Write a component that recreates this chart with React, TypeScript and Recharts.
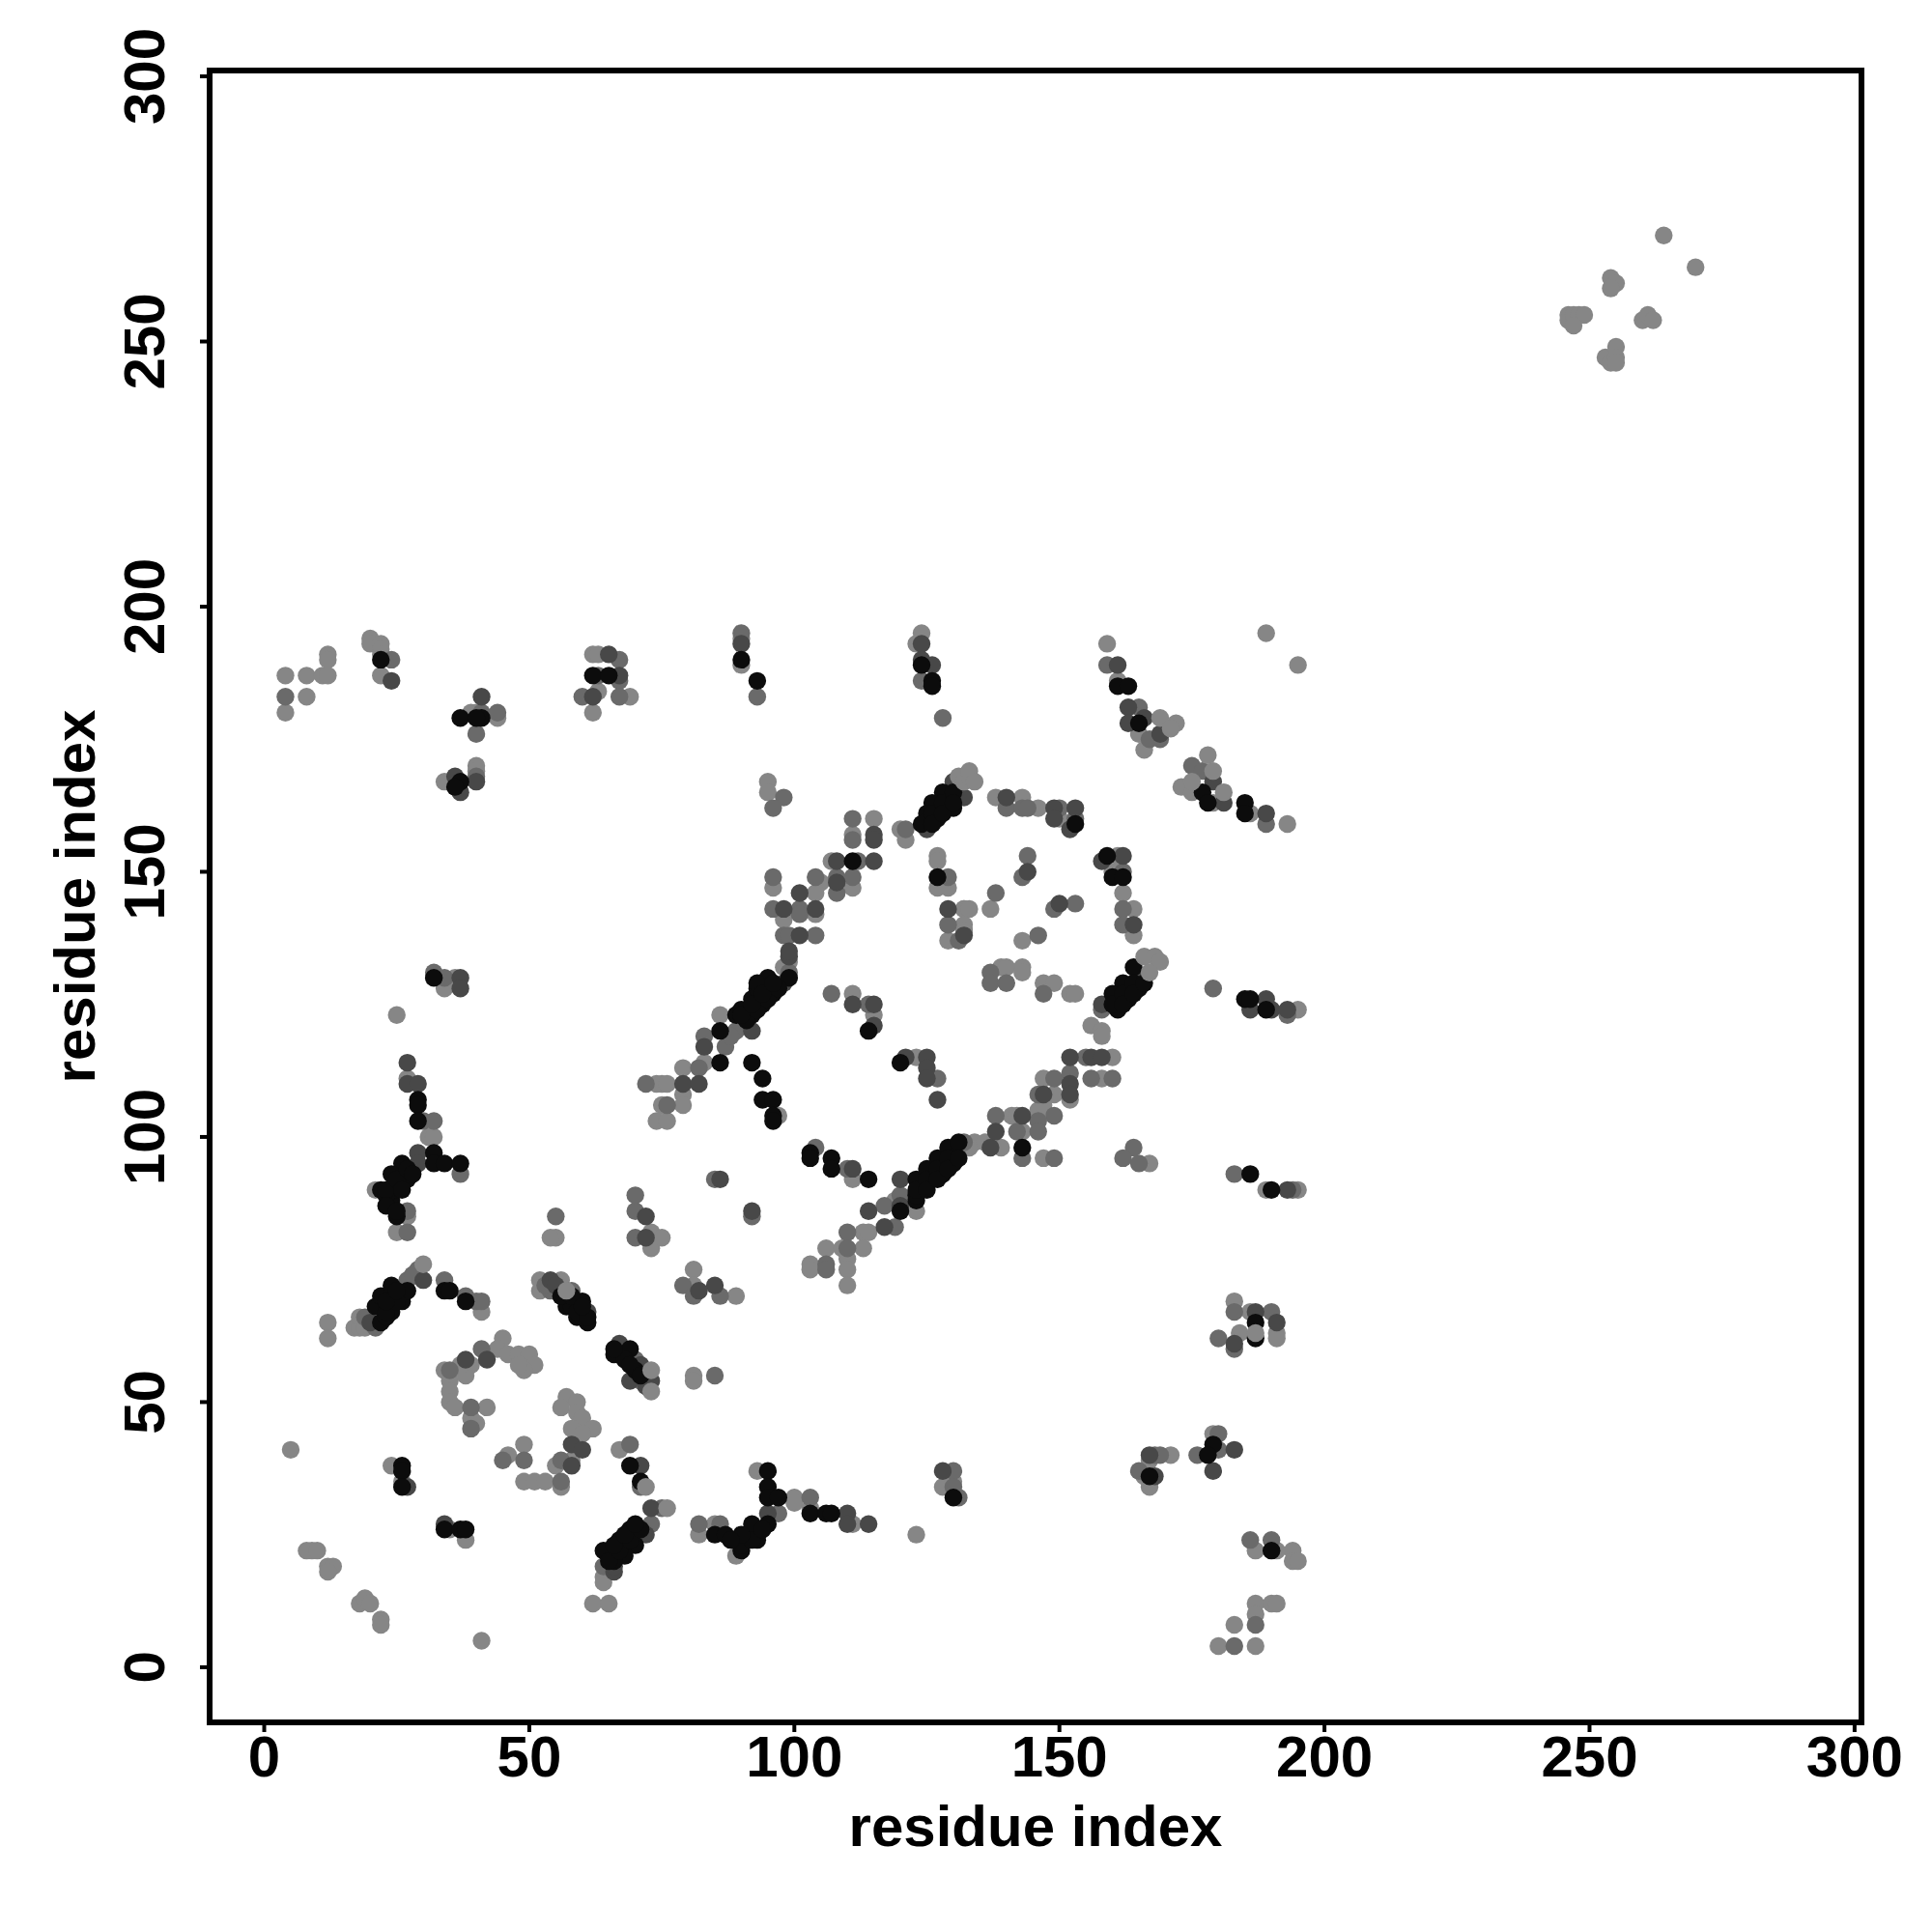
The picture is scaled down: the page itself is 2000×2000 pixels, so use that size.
import React from "react"
import { ScatterChart, Scatter, XAxis, YAxis, ReferenceArea, Label } from "recharts"

// contacts as [residue i, residue j], split by how dark the dot is
const lightDots = [
  [5,41],[12,65],[12,62],[17,64],[18,64],[18,66],[19,64],[41,67],[52,73],[52,71],[56,73],[81,75],[81,72],[89,70],[81,55],[81,54],[55,81],[54,81],[25,82],[27,85],[73,82],[73,79],[75,81],
  [34,56],[35,54],[35,52],[35,50],[36,49],[42,49],[39,47],[40,46],[39,57],[38,55],[37,57],[45,62],[44,60],[46,59],[48,59],[50,59],[51,57],[49,56],[48,57],[57,51],[59,50],[56,49],[59,48],[60,47],[58,45],[62,45],[60,44],[58,39],[55,38],[56,34],[49,42],[46,40],[49,35],[51,35],[53,35],
  [24,38],[26,35],[35,26],[38,24],[9,22],[8,22],[10,22],[12,19],[13,19],[12,18],[18,12],[19,13],[20,12],[22,9],[22,8],[41,5],[62,12],[65,12],[64,17],[64,16],[67,41],[82,25],[85,27],[89,21],[93,37],[100,32],[100,31],[103,30],[111,27],[123,25],[113,82],[114,82],
  [123,86],[113,79],[106,79],[109,79],[103,76],[103,75],[110,77],[110,75],[110,72],[128,34],[130,35],[183,69],[186,67],[191,63],[191,62],[184,63],[179,44],[171,40],[167,34],[166,36],[167,39],[187,22],[191,22],[194,22],[194,20],[195,20],[187,12],[187,10],[190,12],[191,12],[183,8],[180,4],[187,4],
  [4,187],[4,180],[8,187],[8,183],[11,187],[12,187],[12,191],[12,190],[20,194],[20,193],[22,193],[22,192],[22,191],[22,187],[40,180],[39,180],[44,179],[40,170],[40,169],[34,167],[62,191],[63,191],[63,184],[69,183],[62,180],[34,128],[36,130],[25,123],[27,111],[31,100],[32,100],[21,90],[75,110],[74,110],[76,110],[79,113],[79,108],[83,114],[86,123],[75,106],[79,106],[74,103],[76,103],
  [98,132],[111,127],[115,123],[123,115],[97,104],[111,92],[119,88],[134,99],[133,98],[136,99],[139,98],[141,104],
  [138,164],[143,164],[146,162],[150,160],[137,143],[143,137],[132,143],[132,139],[161,153],[160,150],[162,146],[164,143],[164,138],[156,121],[158,120],[158,119],[139,132],[140,132],[143,132],[143,131],[147,129],[149,129],[152,127],[153,127],[160,115],[158,111],[147,111],[149,108],[152,107],[146,105],[147,106],[142,104],[143,101],[147,96],[167,95],[195,124],[189,90],[195,90],
  [90,194],[90,189],[124,195],[123,193],[95,167],[95,165],[120,158],[121,156],[111,157],[115,160],[107,152],[105,148],[96,147],[104,146],[104,142],[111,147],[98,141],[99,133],[127,153],[127,152],[127,147],[129,147],[132,143],[133,143],[132,140],[129,137],[132,139],
  [159,193],[161,186],[165,176],[166,173],[173,166],[179,163],[186,161],[193,159],[175,165],[189,195],[195,189],
  [264,270],[270,264],[254,262],[255,261],[254,260],[246,255],[246,254],[247,255],[248,255],[249,255],[247,253],[260,254],[261,255],[262,254],[253,247],[254,246],[255,249],[255,247],[255,246],
]

const midDots = [
  [21,64],[19,66],[27,73],[29,75],[28,74],[34,73],[40,69],[41,69],[38,70],[54,71],[58,71],[53,72],[70,58],[71,54],[79,72],[81,70],[86,70],[85,55],[55,85],[70,86],[70,81],[27,82],[27,86],[35,56],[39,49],[39,45],[41,60],[56,39],[45,39],[49,39],[56,35],[73,27],[75,30],[64,19],[69,42],[71,34],[82,27],[86,27],
  [92,85],[117,87],[120,87],[119,83],[110,82],[110,79],[106,76],[106,75],[103,32],[97,29],[130,37],[130,34],[131,32],[183,67],[190,67],[180,62],[183,60],[176,40],[180,44],[180,41],[168,40],[169,40],[165,37],[186,24],[190,24],[187,8],[183,4],
  [4,183],[24,190],[41,180],[44,180],[40,176],[40,168],[63,187],[67,190],[60,183],[67,186],[67,183],[32,131],[34,130],[30,103],[32,103],[37,93],[70,89],[72,110],[82,113],[83,119],[87,117],[89,120],[88,119],[76,106],[85,92],
  [99,131],[107,127],[114,125],[127,111],[104,98],[110,94],[132,99],[138,104],[120,89],
  [140,162],[143,162],[144,162],[150,162],[153,160],[144,153],[143,149],[138,146],[149,143],[153,144],[146,138],[162,150],[162,143],[162,140],[137,131],[137,129],[140,129],[147,127],[155,115],[156,111],[160,111],[149,111],[152,112],[146,108],[149,104],[146,103],[142,101],[146,101],[143,96],[149,96],[164,98],[162,96],[165,95],[183,93],[194,90],[193,123],[179,128],[158,124],
  [90,195],[93,183],[124,186],[128,179],[98,164],[96,162],[131,167],[121,158],[111,160],[111,156],[104,149],[108,149],[108,146],[112,152],[111,149],[96,149],[96,143],[101,143],[101,142],[98,138],[104,138],[99,138],[129,149],[129,140],[131,137],
  [159,189],[165,181],[169,175],[167,175],[175,170],[177,169],[189,159],
]

const darkDots = [
  [20,65],[30,73],[54,73],[56,70],[61,67],[55,72],[67,61],[71,57],[72,55],[73,54],[72,53],[69,54],[85,72],[82,71],[72,85],[72,81],[38,58],[42,58],[58,42],[60,41],[58,38],[27,34],[34,27],[73,30],[72,25],[66,18],[66,19],[71,38],
  [92,86],[114,86],[117,83],[95,29],[110,29],[110,27],[114,27],[128,37],[187,67],[191,65],[183,61],[183,41],[179,37],[167,40],[168,36],
  [41,183],[24,186],[37,165],[36,168],[40,167],[65,191],[67,187],[62,183],[37,130],[37,128],[27,114],[27,110],[29,110],[29,97],[29,95],[79,110],[82,110],[83,117],[86,92],
  [92,120],[99,134],[98,129],[111,125],[115,125],[115,121],[121,115],[125,115],[125,113],[125,111],[127,107],[111,94],[120,92],[137,98],[138,101],[120,87],
  [149,162],[149,160],[153,162],[152,158],[144,150],[150,144],[158,152],[162,153],[164,140],[166,130],[158,125],[189,126],[186,124],[190,124],[193,124],[152,115],[156,115],[158,115],[152,110],[147,108],[152,108],[143,104],[193,90],
  [90,193],[124,193],[124,190],[126,189],[130,167],[132,164],[125,158],[115,157],[115,156],[115,152],[108,152],[108,148],[101,146],[98,143],[104,143],[101,138],[99,135],[129,143],[132,138],[140,164],
  [161,189],[163,181],[163,178],[166,179],[169,176],[179,167],[181,163],[189,161],
]

const blackDots = [
  [22,65],[21,68],[22,70],[24,72],[24,67],[26,69],[27,71],[23,66],[34,71],[35,71],[38,69],[57,68],[60,69],[59,66],[61,65],[58,68],[60,66],[66,59],[69,60],[68,58],[70,56],[25,85],[24,88],[26,38],[26,37],[26,34],[34,26],[37,26],[38,26],[64,22],[67,24],[69,26],[70,23],[68,21],[66,20],[69,38],[71,35],[85,25],[87,25],[89,24],
  [95,37],[95,34],[95,32],[97,32],[103,29],[106,29],[107,29],[95,27],[92,27],[93,24],[91,24],[90,22],[123,88],[120,86],[130,32],[187,65],[187,62],[179,42],[178,40],[167,36],[190,22],
  [22,190],[37,179],[41,179],[40,179],[37,167],[36,166],[62,187],[65,187],[32,130],[29,107],[29,106],[29,103],[32,97],[32,95],[34,95],[37,95],[26,95],[24,93],[27,92],[22,90],[25,90],[23,89],[86,120],[86,114],[89,123],[90,124],
  [90,123],[92,123],[92,126],[93,128],[95,130],[96,127],[94,125],[92,114],[94,111],[94,107],[96,107],[96,104],[96,103],[114,120],[120,114],[103,97],[103,96],[107,96],[107,94],[114,92],[123,92],[124,90],[123,89],[125,94],[127,96],[129,98],[130,95],[128,93],[126,92],[131,99],
  [143,98],[153,159],[159,153],[160,149],[162,149],[164,132],[162,129],[165,128],[160,127],[163,126],[161,124],[185,126],[186,126],[189,124],[186,93],[190,90],
  [90,190],[93,186],[124,189],[126,186],[126,185],[128,165],[130,162],[126,163],[128,162],[125,161],[127,160],[111,152],[127,149],[93,129],[99,130],
  [161,185],[163,185],[165,178],[177,165],[178,163],[185,163],[185,161],
]

// the thick diagonal bands, double rows of near-black contacts
const bandDots = [
  [124,159],[126,161],[128,163],[130,165],[126,159],[128,161],[130,163],
  [160,125],[162,127],[164,129],[162,125],[164,127],[166,129],
  [123,90],[125,92],[127,94],[129,96],[125,90],[127,92],[129,94],[131,96],
  [91,122],[93,124],[95,126],[97,128],[90,123],[92,125],[94,127],[96,129],
  [65,20],[67,22],[69,24],[71,26],[66,23],[68,25],[70,27],
  [23,67],[25,69],[23,69],[25,71],
  [56,70],[59,67],[61,66],[58,70],[60,68],
  [66,60],[69,57],[71,55],
  [23,90],[25,92],[27,94],[26,90],[28,93],[23,87],[25,86],
  [90,23],[92,24],[94,26],[90,25],[88,24],
]

// light dots that sit on top of the dark ones
const topDots = [
  [30,76],[76,30],[73,56],[73,52],[57,71],[72,34],[187,63],[166,134],[168,134],[169,133],[167,131],
  [131,168],[132,167],[133,168],[133,169],[134,167],[169,179],[172,178],[171,177],[178,172],[179,169],[175,167],[181,165],
]

const axisTicks = [0, 50, 100, 150, 200, 250, 300]
const axisTitle = "residue index"

const toPoints = (pairs: number[][]) => pairs.map(([x, y]) => ({ x, y }))

const font = "'Liberation Sans', Arial, sans-serif"

const XTick = ({ x, payload }: any) => (
  <text x={x} y={1839} textAnchor="middle" fontFamily={font} fontWeight="bold" fontSize={60} fill="#000">
    {payload.value}
  </text>
)

const YTick = ({ y, payload }: any) => (
  <text x={170} y={y} transform={`rotate(-90 170 ${y})`} textAnchor="middle" fontFamily={font} fontWeight="bold" fontSize={60} fill="#000">
    {payload.value}
  </text>
)

const Dot = ({ cx, cy, fill }: any) => <circle cx={cx} cy={cy} r={9.2} fill={fill} />

export default function App() {
  return (
    <div style={{ position: "absolute", left: 0, top: 0, width: 2000, height: 2000, background: "#fff" }}>
      <ScatterChart width={2000} height={2000} margin={{ top: 73, right: 73, bottom: 0, left: 0 }}>
        <XAxis type="number" dataKey="x" domain={[-10.3, 301.3]} ticks={axisTicks} height={217} interval={0} allowDataOverflow
          axisLine={false} tickLine={{ stroke: "#000", strokeWidth: 4 }} tickSize={10} tick={<XTick />}>
          <Label content={() => (
            <text x={1072} y={1911} textAnchor="middle" fontFamily={font} fontWeight="bold" fontSize={60} fill="#000">{axisTitle}</text>
          )} />
        </XAxis>
        <YAxis type="number" dataKey="y" domain={[-10.4, 301.1]} ticks={axisTicks} width={217} interval={0} allowDataOverflow
          axisLine={false} tickLine={{ stroke: "#000", strokeWidth: 4 }} tickSize={10} tick={<YTick />}>
          <Label content={() => (
            <text x={98} y={928} transform="rotate(-90 98 928)" textAnchor="middle" fontFamily={font} fontWeight="bold" fontSize={60} fill="#000">{axisTitle}</text>
          )} />
        </YAxis>
        <Scatter data={toPoints(lightDots)} fill="#868686" shape={<Dot />} isAnimationActive={false} />
        <Scatter data={toPoints(midDots)} fill="#6a6a6a" shape={<Dot />} isAnimationActive={false} />
        <Scatter data={toPoints(darkDots)} fill="#484848" shape={<Dot />} isAnimationActive={false} />
        <Scatter data={toPoints(blackDots)} fill="#0c0c0c" shape={<Dot />} isAnimationActive={false} />
        <Scatter data={toPoints(bandDots)} fill="#0c0c0c" shape={<Dot />} isAnimationActive={false} />
        <Scatter data={toPoints(topDots)} fill="#868686" shape={<Dot />} isAnimationActive={false} />
        <ReferenceArea x1={-10.3} x2={301.3} y1={-10.4} y2={301.1} fill="none" stroke="#000" strokeWidth={6} />
      </ScatterChart>
    </div>
  )
}
